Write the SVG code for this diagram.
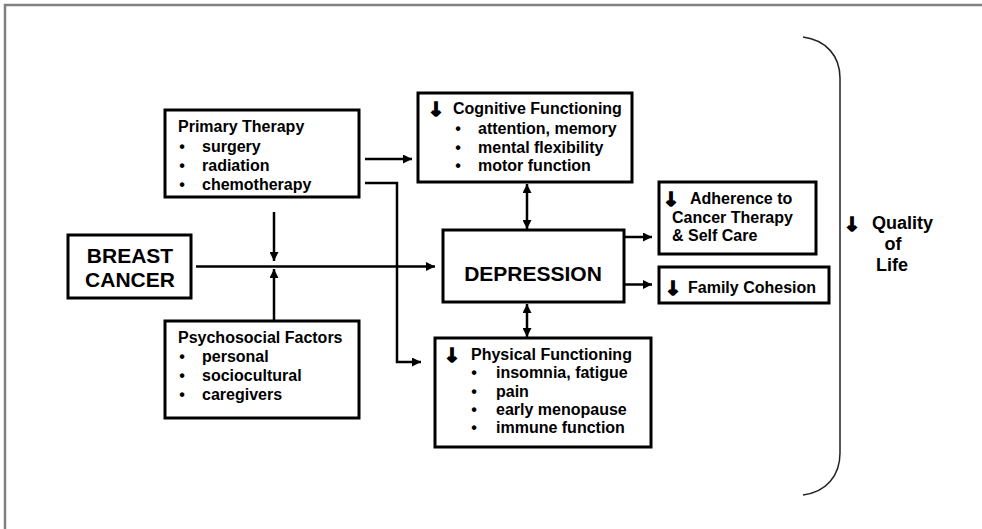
<svg xmlns="http://www.w3.org/2000/svg" width="982" height="529" viewBox="0 0 982 529">
<defs>
<style>
.box{fill:#fff;stroke:#000;stroke-width:3}
.t{font-family:"Liberation Sans",Arial,Helvetica,sans-serif;font-weight:bold;font-size:16px;fill:#000}
.big{font-size:21px}
.q{font-size:18px}
.ar{font-family:"DejaVu Sans","Liberation Sans",sans-serif;font-weight:bold;font-size:19px;stroke:#000;stroke-width:1.6;stroke-linejoin:miter}
.c{fill:none;stroke:#000;stroke-width:2.5}
.mid{text-anchor:middle}
</style>
<marker id="ah" viewBox="0 0 10 10" refX="10" refY="5" markerWidth="9" markerHeight="9" orient="auto-start-reverse" markerUnits="userSpaceOnUse">
<path d="M0,0 L10,5 L0,10 z" fill="#000"/>
</marker>
</defs>
<rect x="0" y="0" width="982" height="529" fill="#fff"/>
<g id="frame" stroke="#808080" stroke-width="2.5" fill="none">
<path d="M5,529 V5 H982"/>
</g>
<g id="connectors">
<path class="c" d="M365,159 H412" marker-end="url(#ah)"/>
<path class="c" d="M365,183 H397 V362 H421" marker-end="url(#ah)"/>
<path class="c" d="M274,212 V261" marker-end="url(#ah)"/>
<path class="c" d="M274,320 V269" marker-end="url(#ah)"/>
<path class="c" d="M196,266.5 H435" marker-end="url(#ah)"/>
<path class="c" d="M527,184 V229" marker-start="url(#ah)" marker-end="url(#ah)"/>
<path class="c" d="M527,304 V337" marker-start="url(#ah)" marker-end="url(#ah)"/>
<path class="c" d="M625,237 H652" marker-end="url(#ah)"/>
<path class="c" d="M625,284.5 H652" marker-end="url(#ah)"/>
</g>
<g id="primary">
<rect class="box" x="165" y="110" width="194" height="87"/>
<text class="t" x="178" y="132">Primary Therapy</text>
<text class="t mid" x="182" y="152">•</text><text class="t" x="202" y="152">surgery</text>
<text class="t mid" x="182" y="171">•</text><text class="t" x="202" y="171">radiation</text>
<text class="t mid" x="182" y="190">•</text><text class="t" x="202" y="190">chemotherapy</text>
</g>
<g id="psychosocial">
<rect class="box" x="165" y="321" width="194" height="97"/>
<text class="t" x="178" y="343">Psychosocial Factors</text>
<text class="t mid" x="182" y="362">•</text><text class="t" x="202" y="362">personal</text>
<text class="t mid" x="182" y="381">•</text><text class="t" x="202" y="381">sociocultural</text>
<text class="t mid" x="182" y="400">•</text><text class="t" x="202" y="400">caregivers</text>
</g>
<g id="breast">
<rect class="box" x="68" y="235" width="123" height="63"/>
<text class="t big mid" x="130" y="263">BREAST</text>
<text class="t big mid" x="130" y="287">CANCER</text>
</g>
<g id="cognitive">
<rect class="box" x="418" y="93" width="214" height="89"/>
<text class="t ar mid" x="436" y="116">↓</text>
<text class="t" x="453" y="114">Cognitive Functioning</text>
<text class="t mid" x="458" y="133.5">•</text><text class="t" x="478" y="133.5">attention, memory</text>
<text class="t mid" x="458" y="152.5">•</text><text class="t" x="478" y="152.5">mental flexibility</text>
<text class="t mid" x="458" y="171">•</text><text class="t" x="478" y="171">motor function</text>
</g>
<g id="depression">
<rect class="box" x="443" y="230" width="181" height="72"/>
<text class="t big mid" x="533" y="281">DEPRESSION</text>
</g>
<g id="physical">
<rect class="box" x="435" y="338" width="216" height="109"/>
<text class="t ar mid" x="452" y="362">↓</text>
<text class="t" x="471" y="360">Physical Functioning</text>
<text class="t mid" x="474" y="378">•</text><text class="t" x="496" y="378">insomnia, fatigue</text>
<text class="t mid" x="474" y="396.5">•</text><text class="t" x="496" y="396.5">pain</text>
<text class="t mid" x="474" y="415">•</text><text class="t" x="496" y="415">early menopause</text>
<text class="t mid" x="474" y="433">•</text><text class="t" x="496" y="433">immune function</text>
</g>
<g id="adherence">
<rect class="box" x="659" y="182" width="157" height="72"/>
<text class="t ar mid" x="671" y="206">↓</text>
<text class="t" x="690" y="204">Adherence to</text>
<text class="t" x="672" y="223">Cancer Therapy</text>
<text class="t" x="672" y="241">&amp; Self Care</text>
</g>
<g id="family">
<rect class="box" x="659" y="267" width="170" height="36"/>
<text class="t ar mid" x="673" y="295">↓</text>
<text class="t" x="688" y="293">Family Cohesion</text>
</g>
<g id="quality">
<path d="M803,37 C826,40 840,56 840,78 L840,453 C840,476 826,492 803,495" fill="none" stroke="#222" stroke-width="1.5"/>
<text class="t ar mid" x="852" y="231">↓</text>
<text class="t q" x="872" y="229">Quality</text>
<text class="t q mid" x="893" y="250">of</text>
<text class="t q mid" x="892" y="271">Life</text>
</g>
</svg>
